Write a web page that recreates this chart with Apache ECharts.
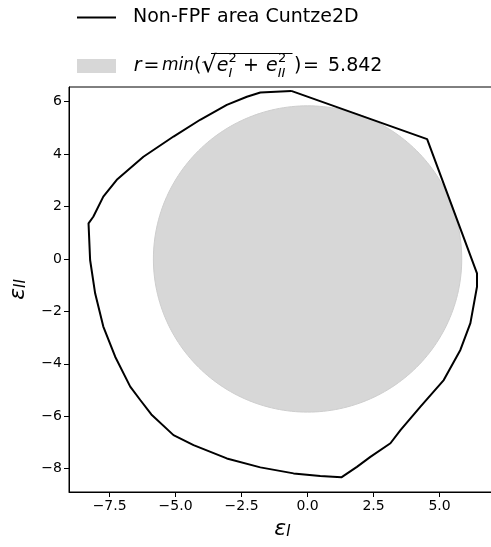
<!DOCTYPE html>
<html>
<head>
<meta charset="utf-8">
<script src="https://cdn.jsdelivr.net/npm/echarts@6/dist/echarts.min.js"></script>
<style>
  html, body { margin: 0; padding: 0; background: #fff; }
  #chart { width: 491px; height: 547px; }
</style>
</head>
<body>
<div id="chart"></div>
<script>
  // boundary of the non-FPF area (eps_I, eps_II)
  const boundaryI = [-0.62, 4.53, 6.42, 6.42, 6.17, 5.79, 5.16, 4.27, 3.52, 3.14, 2.38, 1.87, 1.28, 0.48, -0.53, -1.79, -3.06, -4.32, -5.08, -5.92, -6.34, -6.72, -7.29, -7.74, -8.05, -8.24, -8.30, -8.12, -7.74, -7.23, -6.22, -5.08, -4.07, -3.06, -2.30, -1.79, -0.62]
  const boundaryII = [6.41, 4.57, -0.55, -1.06, -2.45, -3.47, -4.62, -5.64, -6.53, -7.03, -7.55, -7.93, -8.33, -8.28, -8.18, -7.95, -7.61, -7.10, -6.72, -5.93, -5.38, -4.87, -3.73, -2.58, -1.31, -0.04, 1.36, 1.61, 2.38, 3.02, 3.90, 4.67, 5.31, 5.88, 6.19, 6.35, 6.41]
  const minRadius = 5.842
  const xTicks = [-7.5, -5.0, -2.5, 0.0, 2.5, 5.0]
  const yTicks = [-8, -6, -4, -2, 0, 2, 4, 6]

  const font = 'DejaVu Sans'
  const minus = s => String(s).replace('-', '\u2212')

  let boundary = []
  for (let i = 0; i < boundaryI.length; i++) {
    boundary.push([boundaryI[i], boundaryII[i]])
  }

  const lineName = 'Non-FPF area Cuntze2D'
  const circleName = 'r = min(sqrt(e_I^2 + e_II^2)) = 5.842'

  // legend placement
  const legLeft = 76, legTop = 8, iconW = 39, iconH = 14, legGap = 25, textPad = 12

  // pieces of the formula label: text, size, italic, sub/sup, left edge of the glyph
  const formula = [
    { t: 'r', s: 19, i: true, x: 132.7 },
    { t: '=', s: 19, x: 144.5 },
    { t: 'min', s: 17, i: true, x: 161 },
    { t: '(', s: 19, x: 193.5 },
    { t: '\u221a', s: 24, x: 196 },
    { t: 'e', s: 19, i: true, x: 212 },
    { t: 'I', s: 13, i: true, sub: true },
    { t: '2', s: 13, sup: true, x: 223 },
    { t: '+', s: 19, x: 244 },
    { t: 'e', s: 19, i: true, x: 265 },
    { t: 'II', s: 13, i: true, sub: true },
    { t: '2', s: 13, sup: true, x: 277 },
    { t: ')', s: 19, x: 294 },
    { t: '=', s: 19, x: 304 },
    { t: '5.842', s: 19, x: 328 }
  ]

  const ctx = document.createElement('canvas').getContext('2d')
  const measure = (p) => {
    ctx.font = (p.i ? 'italic ' : '') + p.s + 'px "' + font + '"'
    return ctx.measureText(p.t)
  }

  let rich = {}
  let label = ''
  let cursor = legLeft + iconW + 5 + textPad
  let sqrtRight = 0
  formula.forEach((p, k) => {
    const m = measure(p)
    const st = {
      fontFamily: font, fontSize: p.s, color: '#000', lineHeight: 28,
      fontStyle: p.i ? 'italic' : 'normal'
    }
    if (p.sub) {
      st.width = 0
      st.lineHeight = 22
      st.verticalAlign = 'bottom'
    } else {
      const x = p.x + m.actualBoundingBoxLeft
      const pad = Math.max(0, x - cursor)
      st.padding = [0, 0, 0, pad]
      cursor += pad + m.width
      if (p.sup) st.verticalAlign = 'top'
      if (p.t === '\u221a') sqrtRight = x + m.actualBoundingBoxRight
    }
    rich['f' + k] = st
    label += '{f' + k + '|' + p.t + '}'
  })

  const chart = echarts.init(document.getElementById('chart'))
  chart.setOption({
    animation: false,
    textStyle: { fontFamily: font },
    grid: {
      left: 69, right: -5, top: 87, bottom: 55,
      show: true, borderColor: '#000', borderWidth: 1,
      outerBoundsMode: 'none'
    },
    legend: {
      orient: 'vertical',
      left: legLeft,
      top: legTop,
      padding: 0,
      itemWidth: iconW,
      itemHeight: iconH,
      itemGap: legGap,
      data: [
        { name: lineName, itemStyle: { color: 'transparent', borderWidth: 0 } },
        { name: circleName, icon: 'rect', itemStyle: { color: '#d7d7d7' } }
      ],
      formatter: name => (name === lineName ? name : label),
      textStyle: {
        fontFamily: font, fontSize: 19, color: '#000', padding: [0, 0, 0, textPad],
        rich: rich
      }
    },
    graphic: [{
      type: 'line',
      shape: { x1: sqrtRight - 1, y1: 53.5, x2: 292.5, y2: 53.5 },
      style: { stroke: '#000', lineWidth: 1 }
    }],
    xAxis: {
      type: 'value',
      min: -9.04,
      max: 7.14,
      name: '{e|\u03b5}{s|I}',
      nameLocation: 'middle',
      nameGap: 22,
      nameTextStyle: {
        rich: {
          e: { fontFamily: font, fontSize: 22, fontStyle: 'italic', color: '#000' },
          s: { fontFamily: font, fontSize: 15, fontStyle: 'italic', verticalAlign: 'bottom', color: '#000' }
        }
      },
      splitLine: { show: false },
      axisLine: { onZero: false, lineStyle: { color: '#000', width: 1 } },
      axisTick: { customValues: xTicks, length: 5, lineStyle: { color: '#000' } },
      axisLabel: {
        customValues: xTicks,
        formatter: v => minus(Number(v).toFixed(1)),
        fontFamily: font, fontSize: 14, color: '#000', margin: 7
      }
    },
    yAxis: {
      type: 'value',
      min: -8.89,
      max: 6.56,
      name: '{e|\u03b5}{s|II}',
      nameLocation: 'middle',
      nameGap: 40,
      nameTextStyle: {
        rich: {
          e: { fontFamily: font, fontSize: 22, fontStyle: 'italic', color: '#000' },
          s: { fontFamily: font, fontSize: 15, fontStyle: 'italic', verticalAlign: 'bottom', color: '#000' }
        }
      },
      splitLine: { show: false },
      axisLine: { onZero: false, lineStyle: { color: '#000', width: 1 } },
      axisTick: { customValues: yTicks, length: 5, lineStyle: { color: '#000' } },
      axisLabel: {
        customValues: yTicks,
        formatter: v => minus(v),
        fontFamily: font, fontSize: 14, color: '#000', margin: 7
      }
    },
    series: [
      {
        name: circleName,
        type: 'custom',
        z: 1,
        itemStyle: { color: '#d7d7d7' },
        data: [[0, 0, minRadius]],
        renderItem: (params, api) => {
          const c = api.coord([api.value(0), api.value(1)])
          const s = api.size([api.value(2), api.value(2)])
          let pts = []
          for (let k = 0; k < 240; k++) {
            const a = k / 240 * Math.PI * 2
            pts.push([c[0] + s[0] * Math.cos(a), c[1] - s[1] * Math.sin(a)])
          }
          return {
            type: 'polygon',
            shape: { points: pts },
            style: { fill: '#d7d7d7', stroke: '#cdcdcd', lineWidth: 1 }
          }
        }
      },
      {
        name: lineName,
        type: 'line',
        z: 3,
        symbol: 'none',
        smooth: false,
        color: '#000',
        lineStyle: { color: '#000', width: 2 },
        data: boundary
      }
    ]
  })
</script>
</body>
</html>
